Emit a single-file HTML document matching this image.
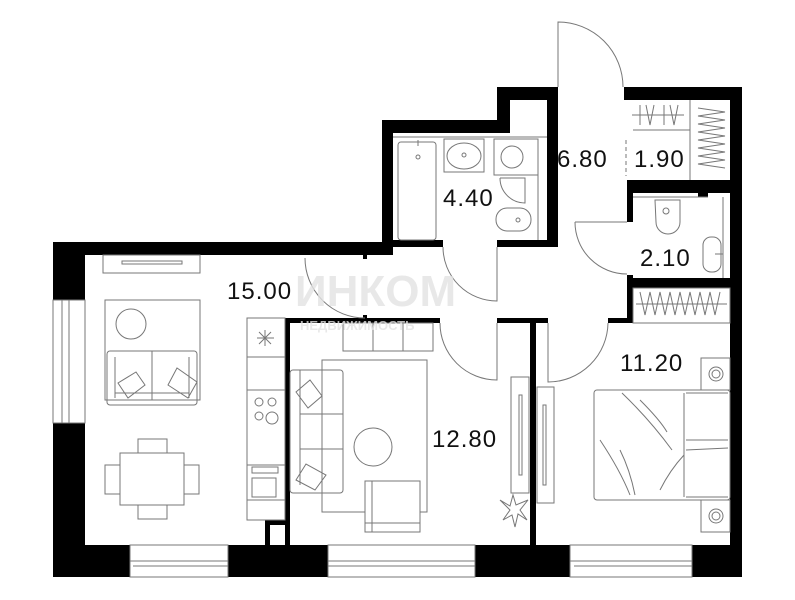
<!DOCTYPE html>
<html><head><meta charset="utf-8"><style>
html,body{margin:0;padding:0;background:#fff;}
svg{display:block;}
text{font-family:"Liberation Sans",sans-serif;}
</style></head><body>
<svg width="795" height="600" viewBox="0 0 795 600" xmlns="http://www.w3.org/2000/svg">
<rect width="795" height="600" fill="#fff"/>
<g fill="#000">
<rect x="53" y="242" width="340" height="13"/>
<rect x="53" y="242" width="32" height="58"/>
<rect x="53" y="423" width="32" height="154"/>
<rect x="53" y="545" width="77" height="32"/>
<rect x="228" y="545" width="100" height="32"/>
<rect x="475" y="545" width="95" height="32"/>
<rect x="692" y="545" width="50" height="32"/>
<rect x="730" y="87" width="12" height="490"/>
<rect x="624" y="87" width="118" height="13"/>
<rect x="382" y="120" width="120" height="13"/>
<rect x="382" y="120" width="11" height="135"/>
<rect x="497" y="87" width="61" height="13"/>
<rect x="497" y="87" width="13" height="46"/>
<rect x="547" y="87" width="11" height="160"/>
<rect x="393" y="240" width="50" height="7"/>
<rect x="497" y="240" width="55" height="7"/>
<rect x="627" y="180" width="103" height="13"/>
<rect x="698" y="180" width="10" height="17"/>
<rect x="627" y="180" width="6" height="42"/>
<rect x="627" y="275" width="6" height="48"/>
<rect x="627" y="278" width="103" height="10"/>
<rect x="285" y="318" width="155" height="5"/>
<rect x="285" y="318" width="5" height="227"/>
<rect x="497" y="318" width="51" height="5"/>
<rect x="608" y="318" width="25" height="5"/>
<rect x="530" y="318" width="6" height="227"/>
<rect x="265" y="520" width="20" height="25"/>
<rect x="363" y="255" width="4" height="4"/>
<rect x="363" y="315" width="4" height="4"/>
</g>
<rect x="270" y="525" width="15" height="20" fill="#fff"/>
<rect x="510" y="100" width="37" height="20" fill="#fff"/>
<rect x="710" y="193" width="18" height="4" fill="#fff"/>
<g fill="none" stroke="#777" stroke-width="1">
<rect x="53" y="300" width="32" height="123"/><line x1="62" y1="300" x2="62" y2="423"/><line x1="69" y1="300" x2="69" y2="423"/>
<rect x="130" y="545" width="98" height="32"/><line x1="130" y1="561" x2="228" y2="561"/><line x1="133" y1="566" x2="228" y2="566"/>
<rect x="328" y="545" width="147" height="32"/><line x1="328" y1="561" x2="475" y2="561"/><line x1="328" y1="566" x2="475" y2="566"/>
<rect x="570" y="545" width="122" height="32"/><line x1="570" y1="561" x2="692" y2="561"/><line x1="574" y1="566" x2="692" y2="566"/>
<path d="M558 87 L558 22 A65 65 0 0 1 623 87"/>
<path d="M575 222 L627 222 M575 222 A52 52 0 0 0 627 274"/>
<path d="M305 258 A60 60 0 0 0 365 318"/>
<path d="M443 247 A54 54 0 0 0 497 301 L497 247"/>
<path d="M440 323 A57 57 0 0 0 497 380 L497 323"/>
<path d="M548 323 L548 382 A60 60 0 0 0 608 323"/>
<line x1="690" y1="100" x2="690" y2="180"/><line x1="633" y1="130" x2="690" y2="130"/>
<line x1="626" y1="140" x2="626" y2="176" stroke-dasharray="4 3"/>
<path d="M632 115 L684 115 M640 105 L640 125 M646 105 L650 125 L654 105 M664 105 L664 125 M670 105 L674 125 L678 105"/>
<path d="M698 108 L725 112 L698 116 L725 120 L698 124 L725 128 L698 132 L725 136 L698 140 L725 144 L698 148 L725 152 L698 156 L725 160 L698 164 L725 168"/>
<rect x="633" y="288" width="97" height="35"/>
<path d="M640 292 L645 315 L650 292 L655 315 L660 292 L665 315 L670 292 L675 315 L680 292 L685 315 L690 292 L695 315 L700 292 L705 315 L710 292 L715 315 L720 292 M636 304 L727 304"/>
<line x1="633" y1="197" x2="708" y2="197"/><line x1="723" y1="197" x2="723" y2="278"/>
<path d="M655 200 L680 200 L680 222 A12 12 0 0 1 656 222 Z"/><circle cx="666" cy="211" r="3"/>
<rect x="703" y="237" width="18" height="35" rx="8"/><line x1="715" y1="254" x2="723" y2="254"/>
<line x1="393" y1="137" x2="547" y2="137"/>
<rect x="398" y="142" width="38" height="98" rx="3"/><circle cx="418" cy="157" r="2"/><line x1="418" y1="140" x2="418" y2="146"/>
<rect x="444" y="139" width="40" height="33"/><ellipse cx="464" cy="156" rx="17" ry="13"/><circle cx="464" cy="155" r="2"/>
<rect x="494" y="139" width="44" height="36"/><circle cx="512" cy="157" r="11"/>
<path d="M500 178 L525 178 L525 203 A25 25 0 0 1 500 178"/>
<rect x="496" y="208" width="35" height="23" rx="11"/><circle cx="518" cy="220" r="2"/>
<line x1="538" y1="139" x2="538" y2="240"/>
<rect x="103" y="255" width="97" height="18"/><rect x="122" y="261" width="60" height="3"/>
<rect x="105" y="300" width="95" height="100"/>
<circle cx="131" cy="324" r="15"/>
<rect x="107" y="351" width="90" height="54" rx="3"/><line x1="152" y1="351" x2="152" y2="400"/>
<path d="M115 357 L115 398 M189 357 L189 398 M115 393 L189 393"/>
<path d="M118 383 L136 372 L145 385 L128 398 Z"/><path d="M168 385 L177 368 L197 382 L188 398 Z"/>
<rect x="120" y="453" width="64" height="52"/>
<rect x="138" y="439" width="29" height="14"/><rect x="138" y="505" width="29" height="14"/>
<rect x="105" y="465" width="15" height="29"/><rect x="184" y="465" width="15" height="29"/>
<rect x="247" y="318" width="38" height="202"/>
<line x1="247" y1="357" x2="285" y2="357"/><line x1="247" y1="390" x2="285" y2="390"/><line x1="247" y1="465" x2="285" y2="465"/><line x1="247" y1="500" x2="285" y2="500"/>
<path d="M257 338 L274 338 M265 330 L265 346 M259 332 L271 344 M271 332 L259 344"/>
<circle cx="259" cy="402" r="4"/><circle cx="272" cy="402" r="4"/><circle cx="259" cy="416" r="4"/><circle cx="272" cy="418" r="6"/>
<rect x="252" y="467" width="26" height="6"/><rect x="252" y="478" width="24" height="19"/>
<rect x="343" y="323" width="90" height="28"/><line x1="373" y1="323" x2="373" y2="351"/><line x1="403" y1="323" x2="403" y2="351"/>
<rect x="322" y="360" width="105" height="152"/>
<rect x="290" y="370" width="53" height="123" rx="3"/><line x1="300" y1="370" x2="300" y2="485"/><line x1="300" y1="414" x2="343" y2="414"/><line x1="300" y1="449" x2="343" y2="449"/>
<path d="M296 392 L310 380 L322 396 L308 408 Z"/><path d="M296 480 L306 464 L326 475 L315 490 Z"/>
<circle cx="373" cy="447" r="19" fill="#fff"/>
<rect x="365" y="481" width="55" height="51" fill="#fff"/><line x1="372" y1="481" x2="372" y2="532"/><line x1="365" y1="523" x2="420" y2="523"/>
<rect x="511" y="377" width="18" height="116"/><rect x="519" y="395" width="3" height="80"/>
<path d="M500 500 L510 510 L503 520 L512 515 L515 527 L518 514 L527 520 L520 510 L528 500 L516 505 L513 495 L510 506 Z"/>
<rect x="537" y="387" width="17" height="116"/><rect x="543" y="405" width="3" height="80"/>
<rect x="701" y="358" width="29" height="32"/><circle cx="716" cy="374" r="7"/><circle cx="716" cy="374" r="4"/>
<rect x="701" y="500" width="29" height="32"/><circle cx="716" cy="516" r="7"/><circle cx="716" cy="516" r="4"/>
<rect x="594" y="390" width="136" height="110" rx="3"/><line x1="684" y1="393" x2="684" y2="497"/>
<path d="M686 393 L728 393 M686 440 L728 440 M686 450 L728 448 M686 497 L728 497"/>
<path d="M622 393 Q650 420 672 450 M640 400 Q660 420 667 432 M600 440 Q620 470 630 495 M620 450 Q630 470 635 495 M660 490 Q670 470 684 455"/>
</g>
<g fill="#e3e3e3" opacity="0.8">
<text x="295" y="306" font-size="44" font-weight="bold">ИНКОМ</text>
<text x="300" y="330" font-size="13" font-family="Liberation Serif" font-weight="bold">НЕДВИЖИМОСТЬ</text>
</g>
<g fill="#111" font-size="24" letter-spacing="1">
<text x="227" y="299">15.00</text>
<text x="443" y="206">4.40</text>
<text x="557" y="167">6.80</text>
<text x="634" y="167">1.90</text>
<text x="640" y="266">2.10</text>
<text x="620" y="371">11.20</text>
<text x="432" y="447">12.80</text>
</g>
</svg>
</body></html>
